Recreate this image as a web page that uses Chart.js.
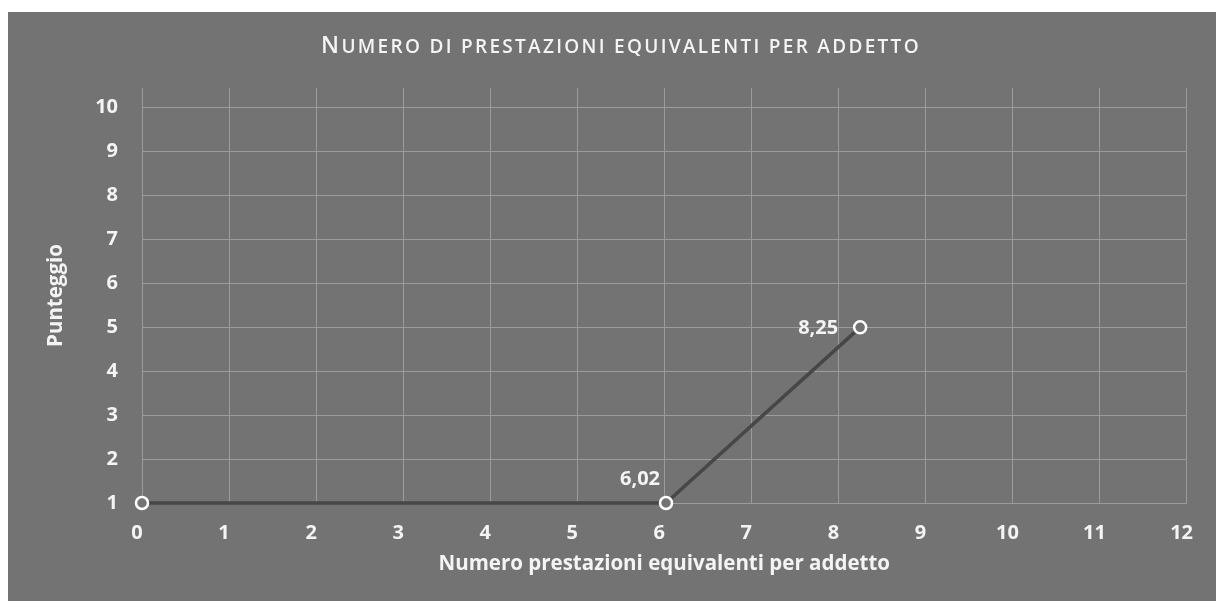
<!DOCTYPE html>
<html>
<head>
<meta charset="utf-8">
<script src="https://cdn.jsdelivr.net/npm/chart.js@4.4.1/dist/chart.umd.min.js"></script>
<style>
  html, body { margin: 0; padding: 0; background: #ffffff; }
  #wrap { position: absolute; left: 8px; top: 12px; width: 1208px; height: 589px; background: #737373; }
</style>
</head>
<body>
<div id="wrap"><canvas id="chart"></canvas></div>
<script>
// data
const xValues = [0, 6.02, 8.25];
const yValues = [1, 1, 5];
const pointLabels = ['', '6,02', '8,25'];
const xRange = [0, 12];
const yRange = [1, 10];
const chartTitle = 'Numero di prestazioni equivalenti per addetto';
const xAxisTitle = 'Numero prestazioni equivalenti per addetto';
const yAxisTitle = 'Punteggio';

const FONT = '"Open Sans", "DejaVu Sans", sans-serif';
const TEXT = '#f4f4f4';
const GRID = '#9c9c9c';

// excel style small caps title, drawn letter by letter
const titlePlugin = {
  id: 'smallCapsTitle',
  afterDraw(chart) {
    const ctx = chart.ctx;
    const big = '600 23px ' + FONT;
    const small = '600 19px ' + FONT;
    ctx.save();
    ctx.letterSpacing = '2.3px';
    const parts = [...chartTitle].map(ch => ({
      t: ch.toUpperCase(),
      f: ch !== ch.toLowerCase() ? big : small
    }));
    let w = 0;
    parts.forEach(p => { ctx.font = p.f; p.w = ctx.measureText(p.t).width; w += p.w; });
    let x = 613 - w / 2;
    ctx.fillStyle = TEXT;
    ctx.textBaseline = 'alphabetic';
    ctx.textAlign = 'left';
    parts.forEach(p => { ctx.font = p.f; ctx.fillText(p.t, x, 41); x += p.w; });
    ctx.restore();
  }
};

// point labels (no datalabels plugin available)
const labelPlugin = {
  id: 'pointLabels',
  afterDatasetsDraw(chart) {
    const ctx = chart.ctx;
    const meta = chart.getDatasetMeta(0);
    const last = meta.data.length - 1;
    ctx.save();
    ctx.font = 'bold 20px ' + FONT;
    ctx.fillStyle = TEXT;
    ctx.textAlign = 'right';
    ctx.textBaseline = 'middle';
    meta.data.forEach((pt, i) => {
      const txt = pointLabels[i];
      if (!txt) return;
      if (i === last) ctx.fillText(txt, pt.x - 22, pt.y + 1);
      else ctx.fillText(txt, pt.x - 6, pt.y - 24);
    });
    ctx.restore();
  }
};

const tickFont = { family: FONT, size: 20, weight: 'bold' };
const titleFont = { family: FONT, size: 20.5, weight: 'bold' };

new Chart(document.getElementById('chart'), {
  type: 'scatter',
  data: {
    datasets: [{
      data: xValues.map((x, i) => ({ x: x, y: yValues[i] })),
      showLine: true,
      clip: false,
      borderColor: '#474747',
      borderWidth: 3.5,
      pointRadius: 6,
      pointHoverRadius: 6,
      pointBorderWidth: 2.5,
      pointBorderColor: '#ffffff',
      pointBackgroundColor: '#737373'
    }]
  },
  options: {
    responsive: true,
    maintainAspectRatio: false,
    animation: false,
    layout: { padding: { top: 76, right: 29, left: 0, bottom: 0 } },
    plugins: {
      legend: { display: false },
      tooltip: { enabled: false }
    },
    scales: {
      x: {
        type: 'linear',
        min: xRange[0],
        max: xRange[1],
        afterFit: s => { s.height = 98; },
        ticks: { stepSize: 1, color: TEXT, padding: 18, labelOffset: -5, font: tickFont },
        grid: { color: GRID, drawTicks: false },
        border: { color: GRID },
        title: { display: true, text: xAxisTitle, color: TEXT, padding: { bottom: 25 }, font: titleFont }
      },
      y: {
        type: 'linear',
        min: yRange[0],
        max: yRange[1] + 0.45,
        afterFit: s => { s.width = 134; },
        ticks: { stepSize: 1, includeBounds: false, color: TEXT, padding: 24, font: tickFont },
        grid: { color: GRID, drawTicks: false },
        border: { color: GRID },
        title: { display: true, text: yAxisTitle, color: TEXT, padding: { top: 36 }, font: titleFont }
      }
    }
  },
  plugins: [titlePlugin, labelPlugin]
});
</script>
</body>
</html>
